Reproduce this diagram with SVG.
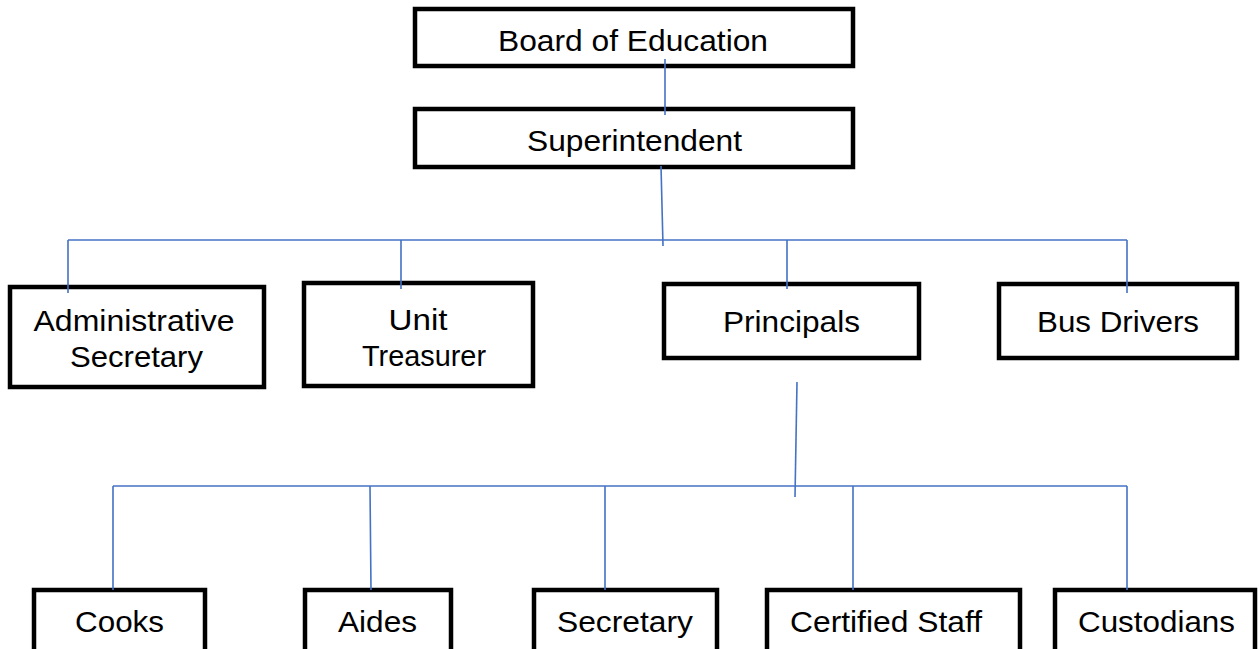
<svg xmlns="http://www.w3.org/2000/svg" width="1260" height="649" viewBox="0 0 1260 649">
<style>
.box{fill:#fff;stroke:#000;stroke-width:4.5}
.t{font-family:"Liberation Sans",Arial,sans-serif;font-size:29px;fill:#000;text-anchor:middle}
.c{fill:none;stroke:#4472C4;stroke-width:1.6}
</style>
<rect width="1260" height="649" fill="#fff"/>
<g id="n-board"><rect class="box" x="415" y="9" width="438" height="57"/><text class="t" x="633" y="51" textLength="270" lengthAdjust="spacingAndGlyphs">Board of Education</text></g>
<g id="n-super"><rect class="box" x="415" y="109" width="438" height="58"/><text class="t" x="634.5" y="151" textLength="215" lengthAdjust="spacingAndGlyphs">Superintendent</text></g>
<g id="n-admin"><rect class="box" x="10" y="287" width="254" height="100"/><text class="t" x="134" y="331" textLength="201" lengthAdjust="spacingAndGlyphs">Administrative</text><text class="t" x="136.5" y="367" textLength="133" lengthAdjust="spacingAndGlyphs">Secretary</text></g>
<g id="n-unit"><rect class="box" x="304" y="283" width="229" height="103"/><text class="t" x="418" y="330" textLength="59" lengthAdjust="spacingAndGlyphs">Unit</text><text class="t" x="424" y="366" textLength="124" lengthAdjust="spacingAndGlyphs">Treasurer</text></g>
<g id="n-principals"><rect class="box" x="664" y="284" width="255" height="74"/><text class="t" x="791.5" y="332" textLength="137" lengthAdjust="spacingAndGlyphs">Principals</text></g>
<g id="n-bus"><rect class="box" x="999" y="284" width="238" height="74"/><text class="t" x="1118" y="332" textLength="162" lengthAdjust="spacingAndGlyphs">Bus Drivers</text></g>
<g id="n-cooks"><rect class="box" x="34" y="590" width="171" height="70"/><text class="t" x="119.5" y="632" textLength="89" lengthAdjust="spacingAndGlyphs">Cooks</text></g>
<g id="n-aides"><rect class="box" x="305" y="590" width="146" height="70"/><text class="t" x="377.5" y="632" textLength="79" lengthAdjust="spacingAndGlyphs">Aides</text></g>
<g id="n-secretary"><rect class="box" x="534" y="590" width="183" height="70"/><text class="t" x="625" y="632" textLength="136" lengthAdjust="spacingAndGlyphs">Secretary</text></g>
<g id="n-certified"><rect class="box" x="767" y="590" width="253" height="70"/><text class="t" x="886" y="632" textLength="192" lengthAdjust="spacingAndGlyphs">Certified Staff</text></g>
<g id="n-custodians"><rect class="box" x="1055" y="590" width="200" height="70"/><text class="t" x="1156.5" y="632" textLength="157" lengthAdjust="spacingAndGlyphs">Custodians</text></g>
<g id="connectors">
<path class="c" d="M665 59V115"/>
<path class="c" d="M661 166L663 246"/>
<path class="c" d="M68 240H1127"/>
<path class="c" d="M68 240V293M401 240V289M787 240V289M1127 240V293"/>
<path class="c" d="M797 382L795 497"/>
<path class="c" d="M113 486H1127"/>
<path class="c" d="M113 486V590M370 486L371 590M605 486V590M853 486V590M1127 486V590"/>
</g>
</svg>
